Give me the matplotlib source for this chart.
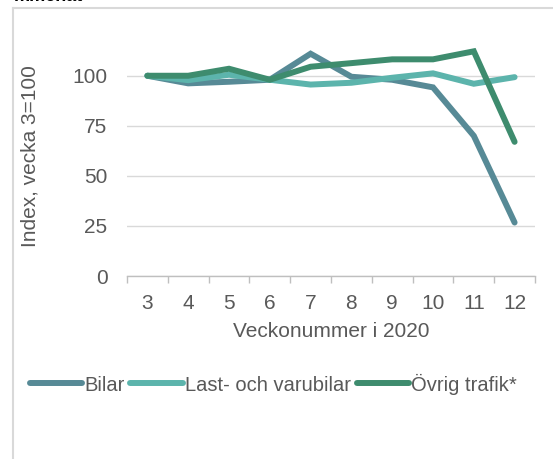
import matplotlib
matplotlib.use("Agg")
import matplotlib.pyplot as plt
from matplotlib.lines import Line2D
import numpy as np

weeks = ["3", "4", "5", "6", "7", "8", "9", "10", "11", "12"]
bilar = [100, 96.2, 97, 98, 111, 99.5, 98, 94.2, 70, 26.7]
last = [100, 97.8, 100.5, 98, 95.6, 96.5, 99, 101.2, 96, 99.3]
ovrig = [100, 100, 103.5, 98, 104.5, 106.3, 108.2, 108.2, 112.2, 67]
series_names = ["Bilar", "Last- och varubilar", "Övrig trafik*"]
colors = ["#578a96", "#5cb4ac", "#3e8c6e"]
yticks = [0, 25, 50, 75, 100]

plt.rcParams['font.family'] = ['Liberation Sans', 'DejaVu Sans']
txt = "#595959"
fs = 15

fig = plt.figure(figsize=(5.53, 4.59), dpi=100)
W, H = 553, 459
ax = fig.add_axes([127 / W, 1 - 276 / H, 408 / W, (276 - 35.7) / H])

x = np.arange(len(weeks))
for vals, name, c in zip([bilar, last, ovrig], series_names, colors):
    ax.plot(x, vals, color=c, lw=4.3, label=name, solid_capstyle='round',
            solid_joinstyle='miter')

ax.set_xlim(-0.5, len(weeks) - 0.5)
ax.set_ylim(0, 120)
ax.set_yticks(yticks)
ax.set_yticklabels([str(v) for v in yticks])
ax.set_xticks(x)
ax.set_xticklabels(weeks)
ax.set_xticks(np.arange(-0.5, len(weeks), 1), minor=True)
ax.tick_params(axis='y', length=0, pad=14, labelsize=fs, labelcolor=txt)
ax.tick_params(axis='x', which='major', length=0, pad=13, labelsize=fs, labelcolor=txt)
ax.tick_params(axis='x', which='minor', length=5, color="#bfbfbf", width=1)
ax.grid(axis='y', color="#d9d9d9", lw=1)
ax.set_axisbelow(True)
for s in ['top', 'right', 'left']:
    ax.spines[s].set_visible(False)
ax.spines['bottom'].set_color("#bfbfbf")
ax.spines['bottom'].set_linewidth(1)

ax.set_ylabel("Index, vecka 3=100", fontsize=fs, color=txt)
ax.yaxis.set_label_coords(-0.215, 0.5)
ax.set_xlabel("Veckonummer i 2020", fontsize=fs, color=txt)
ax.xaxis.set_label_coords(0.4995, -0.191)

leg = fig.legend(loc='center', bbox_to_anchor=(0.494, 1 - 384 / H), ncol=3,
                 frameon=False, fontsize=14.5, handlelength=2.6, handletextpad=0.1,
                 columnspacing=0.3, labelcolor=txt)
for h in leg.get_lines():
    h.set_linewidth(4.3)
    h.set_solid_capstyle('round')

# frame border
fig.add_artist(Line2D([12.5 / W, 12.5 / W], [0, 1 - 8 / H], color="#d9d9d9", lw=1.5,
                      transform=fig.transFigure))
fig.add_artist(Line2D([12.5 / W, 1], [1 - 8 / H, 1 - 8 / H], color="#d9d9d9", lw=1.5,
                      transform=fig.transFigure))
fig.text(14 / W, 1 + 3.5 / H, "mmenat", fontsize=13, fontweight='bold', color="#000000",
         va='center', ha='left')

fig.savefig("out.png", dpi=100)
